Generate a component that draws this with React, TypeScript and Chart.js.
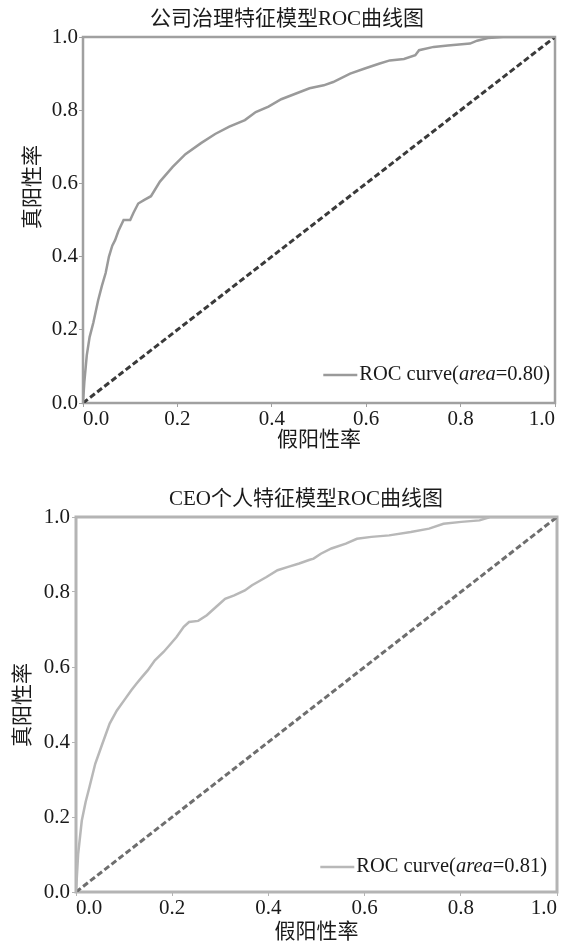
import React, { useEffect, useRef } from "react";
import { Chart, registerables } from "chart.js";

Chart.register(...registerables);

// ---------- data ----------
const TITLES = ["公司治理特征模型ROC曲线图", "CEO个人特征模型ROC曲线图"];
const X_TITLE = "假阳性率";
const Y_TITLE = "真阳性率";
const AUC = [0.8, 0.81];
const DIAG_X = [0, 1];
const DIAG_Y = [0, 1];

const FPR1 = [0, 0.003, 0.008, 0.014, 0.022, 0.032, 0.04, 0.048, 0.055, 0.062, 0.068, 0.075, 0.086, 0.1, 0.107, 0.117, 0.13, 0.144, 0.163, 0.19, 0.217, 0.25, 0.28, 0.31, 0.343, 0.366, 0.393, 0.42, 0.45, 0.48, 0.51, 0.53, 0.566, 0.597, 0.627, 0.65, 0.68, 0.704, 0.712, 0.743, 0.773, 0.82, 0.835, 0.858, 0.89, 1.0];
const TPR1 = [0, 0.06, 0.13, 0.18, 0.22, 0.28, 0.32, 0.355, 0.4, 0.43, 0.445, 0.47, 0.5, 0.5, 0.52, 0.545, 0.555, 0.565, 0.605, 0.645, 0.68, 0.71, 0.735, 0.755, 0.773, 0.795, 0.81, 0.83, 0.845, 0.86, 0.868, 0.877, 0.9, 0.914, 0.927, 0.936, 0.94, 0.95, 0.964, 0.973, 0.977, 0.982, 0.99, 0.997, 1.0, 1.0];

const FPR2 = [0, 0.0045, 0.012, 0.02, 0.028, 0.04, 0.055, 0.07, 0.085, 0.1, 0.115, 0.126, 0.137, 0.149, 0.164, 0.182, 0.197, 0.209, 0.224, 0.235, 0.254, 0.272, 0.291, 0.31, 0.329, 0.351, 0.366, 0.396, 0.419, 0.441, 0.464, 0.486, 0.494, 0.509, 0.531, 0.561, 0.584, 0.614, 0.651, 0.696, 0.734, 0.764, 0.801, 0.839, 0.861, 1.0];
const TPR2 = [0, 0.102, 0.19, 0.24, 0.28, 0.342, 0.396, 0.449, 0.484, 0.511, 0.538, 0.556, 0.573, 0.591, 0.618, 0.64, 0.662, 0.68, 0.707, 0.72, 0.723, 0.738, 0.76, 0.782, 0.791, 0.804, 0.818, 0.84, 0.858, 0.867, 0.876, 0.886, 0.889, 0.902, 0.916, 0.929, 0.942, 0.947, 0.951, 0.96, 0.969, 0.982, 0.987, 0.991, 1.0, 1.0];

// ---------- styling ----------
const SERIF = "'Liberation Serif', 'Noto Sans CJK SC', serif";
const TEXT = "#1a1a1a";

const toPoints = (xs: number[], ys: number[]) => xs.map((x, i) => ({ x, y: ys[i] }));

const decor = {
  id: "decor",
  beforeDatasetsDraw(chart: any, _a: any, o: any) {
    const { ctx, chartArea: a } = chart;
    ctx.save();
    ctx.strokeStyle = o.frameColor;
    ctx.lineWidth = o.frameWidth;
    ctx.strokeRect(a.left, a.top, a.right - a.left, a.bottom - a.top);
    ctx.restore();
  },
  afterDraw(chart: any, _a: any, o: any) {
    const { ctx, chartArea: a } = chart;
    ctx.save();
    ctx.fillStyle = TEXT;
    ctx.textAlign = "center";
    ctx.textBaseline = "middle";
    ctx.font = `21px ${SERIF}`;
    ctx.fillText(o.title, o.titleX, o.titleY);
    ctx.save();
    ctx.translate(o.yTitleX, o.yTitleY);
    ctx.rotate(-Math.PI / 2);
    ctx.fillText(Y_TITLE, 0, 0);
    ctx.restore();

    // legend
    const fn = `20.5px ${SERIF}`;
    const fi = `italic 20.5px ${SERIF}`;
    const p1 = "ROC curve(";
    const p2 = "area";
    const p3 = `=${o.auc.toFixed(2)})`;
    ctx.font = fn;
    const w1 = ctx.measureText(p1).width;
    const w3 = ctx.measureText(p3).width;
    ctx.font = fi;
    const w2 = ctx.measureText(p2).width;
    const total = w1 + w2 + w3;
    const x0 = a.right - o.legendRight - total;
    const y = a.bottom - o.legendUp;
    ctx.strokeStyle = o.curveColor;
    ctx.lineWidth = 2.5;
    ctx.beginPath();
    ctx.moveTo(x0 - 2 - 34, y);
    ctx.lineTo(x0 - 2, y);
    ctx.stroke();
    ctx.textAlign = "left";
    ctx.fillStyle = TEXT;
    ctx.font = fn;
    ctx.fillText(p1, x0, y);
    ctx.font = fi;
    ctx.fillText(p2, x0 + w1, y);
    ctx.font = fn;
    ctx.fillText(p3, x0 + w1 + w2, y);
    ctx.restore();
  },
};

type P = {
  idx: number;
  fpr: number[];
  tpr: number[];
  height: number;
  padding: any;
  yWidth: number;
  xHeight: number;
  yTickPad: number;
  titleX: number;
  titleY: number;
  yTitleX: number;
  yTitleY: number;
  legendRight: number;
  legendUp: number;
  curveColor: string;
  diagColor: string;
  frameColor: string;
  frameWidth: number;
};

const PARAMS: P[] = [
  {
    idx: 0, fpr: FPR1, tpr: TPR1, height: 470,
    padding: { top: 37, left: 0, right: 12, bottom: 17 },
    yWidth: 83, xHeight: 50, yTickPad: 1,
    titleX: 287, titleY: 19, yTitleX: 33, yTitleY: 187,
    legendRight: 5, legendUp: 28,
    curveColor: "#9a9a9a", diagColor: "#3a3a3a", frameColor: "#a0a0a0", frameWidth: 2.5,
  },
  {
    idx: 1, fpr: FPR2, tpr: TPR2, height: 475,
    padding: { top: 47, left: 0, right: 10, bottom: 0 },
    yWidth: 76, xHeight: 53, yTickPad: 2,
    titleX: 306, titleY: 29, yTitleX: 23, yTitleY: 235,
    legendRight: 10, legendUp: 25,
    curveColor: "#b8b8b8", diagColor: "#6e6e6e", frameColor: "#b4b4b4", frameWidth: 3,
  },
];

function makeConfig(p: P): any {
  const tickFont = { family: SERIF, size: 21 };
  const zeroPad = (s: any) => {
    s.paddingLeft = 0;
    s.paddingRight = 0;
    s.paddingTop = 0;
    s.paddingBottom = 0;
  };
  return {
    type: "line",
    data: {
      datasets: [
        {
          label: `ROC curve(area=${AUC[p.idx].toFixed(2)})`,
          data: toPoints(p.fpr, p.tpr),
          borderColor: p.curveColor,
          borderWidth: 2.5,
          pointRadius: 0,
          tension: 0,
          fill: false,
        },
        {
          label: "diag",
          data: toPoints(DIAG_X, DIAG_Y),
          borderColor: p.diagColor,
          borderWidth: 3,
          borderDash: [6, 3],
          pointRadius: 0,
          fill: false,
        },
      ],
    },
    options: {
      animation: false,
      responsive: false,
      layout: { padding: p.padding },
      plugins: {
        legend: { display: false },
        tooltip: { enabled: false },
        title: { display: false },
        decor: {
          title: TITLES[p.idx],
          titleX: p.titleX,
          titleY: p.titleY,
          yTitleX: p.yTitleX,
          yTitleY: p.yTitleY,
          legendRight: p.legendRight,
          legendUp: p.legendUp,
          auc: AUC[p.idx],
          curveColor: p.curveColor,
          frameColor: p.frameColor,
          frameWidth: p.frameWidth,
        },
      },
      scales: {
        x: {
          type: "linear",
          min: 0,
          max: 1,
          border: { display: false },
          grid: { display: true, drawOnChartArea: false, drawTicks: true, tickLength: 4, color: p.frameColor },
          ticks: {
            stepSize: 0.2,
            color: TEXT,
            font: tickFont,
            padding: 0,
            align: "inner",
            maxRotation: 0,
            callback: (v: any) => Number(v).toFixed(1),
          },
          title: { display: true, text: X_TITLE, color: TEXT, font: { family: SERIF, size: 21 }, padding: 0 },
          afterFit: (s: any) => {
            s.height = p.xHeight;
            zeroPad(s);
          },
        },
        y: {
          type: "linear",
          min: 0,
          max: 1,
          border: { display: false },
          grid: { display: true, drawOnChartArea: false, drawTicks: true, tickLength: 4, color: p.frameColor },
          ticks: {
            stepSize: 0.2,
            color: TEXT,
            font: tickFont,
            padding: p.yTickPad,
            callback: (v: any) => Number(v).toFixed(1),
          },
          afterFit: (s: any) => {
            s.width = p.yWidth;
            zeroPad(s);
          },
        },
      },
    },
    plugins: [decor],
  };
}

function RocChart({ p, top }: { p: P; top: number }) {
  const ref = useRef<HTMLCanvasElement>(null);
  useEffect(() => {
    if (!ref.current) return;
    const chart = new Chart(ref.current, makeConfig(p));
    return () => chart.destroy();
  }, [p]);
  return (
    <canvas
      ref={ref}
      width={567}
      height={p.height}
      style={{ position: "absolute", left: 0, top, width: 567, height: p.height, display: "block" }}
    />
  );
}

export default function App() {
  return (
    <div style={{ position: "absolute", left: 0, top: 0, width: 567, height: 945, background: "#fff" }}>
      <RocChart p={PARAMS[0]} top={0} />
      <RocChart p={PARAMS[1]} top={470} />
    </div>
  );
}
